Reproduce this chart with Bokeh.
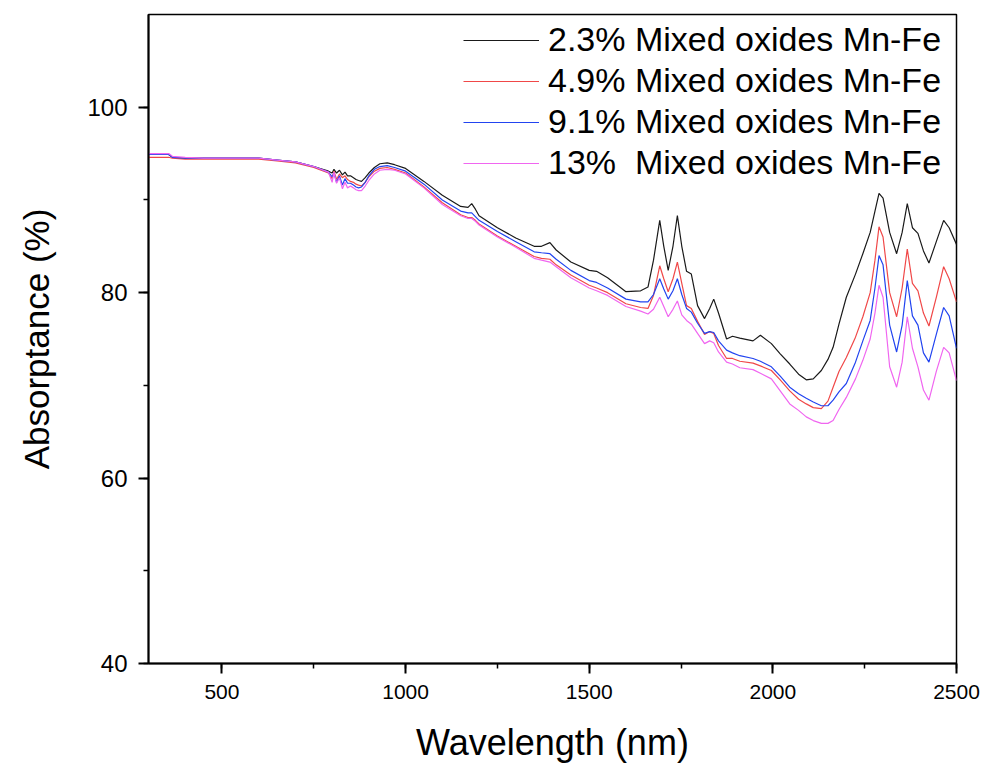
from bokeh.plotting import figure
from bokeh.models import FixedTicker, Legend, LegendItem, Range1d
from bokeh.embed import file_html
from bokeh.resources import INLINE

# Wavelength (nm)
wavelength = [300, 330, 355, 365, 400, 450, 500, 550, 600, 650, 700, 750, 790, 800, 805, 812, 820, 828, 835, 842,
              850, 858, 865, 872, 880, 890, 900, 915, 930, 950, 970, 1000, 1050, 1100, 1150, 1170, 1180, 1190, 1200,
              1250, 1300, 1350, 1370, 1393, 1410, 1450, 1500, 1520, 1550, 1600, 1640, 1660, 1675, 1692, 1703, 1715,
              1728, 1740, 1752, 1765, 1778, 1795, 1814, 1828, 1839, 1852, 1874, 1890, 1910, 1946, 1966, 1996, 2020,
              2046, 2070, 2091, 2110, 2132, 2150, 2164, 2180, 2200, 2225, 2245, 2265, 2278, 2289, 2300, 2318, 2337,
              2352, 2366, 2380, 2395, 2410, 2425, 2445, 2465, 2480, 2500]

abs_2_3 = [94.9, 94.9, 94.9, 94.6, 94.5, 94.5, 94.5, 94.5, 94.5, 94.3, 94.1, 93.6, 93.1, 92.9, 93.3, 92.9, 93.2, 92.7, 93.0, 92.6,
           92.6, 92.4, 92.2, 92.1, 92.0, 92.4, 92.9, 93.5, 93.9, 94.0, 93.8, 93.4, 92.0, 90.5, 89.3, 89.2, 89.6, 89.0, 88.3,
           87.0, 85.9, 85.0, 85.0, 85.4, 84.6, 83.3, 82.4, 82.3, 81.6, 80.1, 80.2, 80.6, 83.5, 87.8, 85.0, 82.4,
           85.0, 88.3, 85.0, 82.3, 82.0, 78.6, 77.2, 78.3, 79.3, 77.8, 75.0, 75.3, 75.1, 74.8, 75.4, 74.5, 73.4,
           72.3, 71.2, 70.6, 70.7, 71.6, 72.8, 74.1, 76.6, 79.5, 82.0, 84.2, 86.5, 88.8, 90.7, 90.2, 86.5, 84.2,
           86.5, 89.6, 87.0, 86.4, 84.5, 83.2, 85.5, 87.8, 87.0, 85.2]

abs_4_9 = [94.6, 94.6, 94.6, 94.5, 94.4, 94.4, 94.4, 94.4, 94.4, 94.2, 94.0, 93.5, 92.9, 92.3, 93.1, 92.2, 92.8, 92.4, 92.6, 92.2,
           92.0, 91.9, 91.7, 91.6, 91.5, 91.9, 92.5, 93.1, 93.4, 93.5, 93.3, 92.9, 91.4, 89.7, 88.4, 88.1, 88.1, 87.8, 87.4,
           86.1, 85.0, 83.9, 83.7, 83.6, 83.0, 81.9, 80.8, 80.5, 80.0, 78.8, 78.4, 78.3, 79.7, 82.9, 81.5, 80.1,
           81.5, 83.3, 81.0, 78.6, 78.3, 76.9, 75.5, 75.8, 75.6, 74.3, 72.9, 72.9, 72.6, 72.4, 72.1, 71.6, 70.6,
           69.4, 68.5, 68.0, 67.6, 67.5, 68.3, 69.8, 71.5, 73.0, 75.2, 77.4, 80.0, 83.5, 87.1, 86.0, 80.0, 77.4,
           80.5, 84.7, 81.0, 80.2, 77.8, 76.4, 79.5, 82.8, 81.5, 79.0]

abs_9_1 = [94.9, 94.9, 94.9, 94.6, 94.5, 94.5, 94.5, 94.5, 94.5, 94.3, 94.1, 93.6, 93.0, 92.5, 92.9, 91.9, 92.6, 91.6, 92.3, 91.8,
           91.8, 91.6, 91.4, 91.3, 91.4, 91.9, 92.6, 93.3, 93.6, 93.7, 93.5, 93.1, 91.7, 90.0, 88.8, 88.6, 88.6, 88.2, 87.8,
           86.6, 85.5, 84.4, 84.3, 84.2, 83.6, 82.4, 81.3, 81.1, 80.5, 79.3, 79.0, 79.0, 79.8, 81.5, 80.4, 79.3,
           80.2, 81.5, 79.8, 78.3, 77.9, 76.7, 75.6, 75.8, 75.7, 74.8, 73.8, 73.5, 73.2, 72.9, 72.6, 72.0, 71.0,
           69.8, 69.1, 68.6, 68.2, 67.8, 67.8, 68.4, 69.3, 70.2, 72.5, 74.8, 77.0, 80.5, 84.0, 83.0, 76.5, 73.6,
           76.5, 81.3, 77.5, 76.5, 73.5, 72.5, 75.5, 78.4, 77.5, 74.0]

abs_13 = [95.0, 95.0, 95.0, 94.7, 94.6, 94.5, 94.5, 94.5, 94.5, 94.3, 94.1, 93.6, 93.0, 91.9, 93.0, 91.8, 92.4, 91.2, 91.9, 91.3,
          91.5, 91.3, 91.1, 91.0, 91.0, 91.5, 92.1, 92.8, 93.2, 93.3, 93.2, 92.8, 91.3, 89.5, 88.3, 88.0, 88.0, 87.7, 87.3,
          86.0, 84.9, 83.7, 83.5, 83.3, 82.8, 81.6, 80.5, 80.2, 79.7, 78.5, 78.0, 77.7, 78.2, 79.5, 78.5, 77.4,
          78.2, 79.1, 77.6, 77.0, 76.6, 75.6, 74.5, 74.8, 74.6, 73.6, 72.5, 72.3, 71.9, 71.7, 71.3, 70.7, 69.4,
          68.0, 67.3, 66.6, 66.2, 65.9, 65.9, 66.2, 67.4, 68.7, 70.7, 72.7, 75.0, 77.8, 80.8, 79.5, 72.0, 69.8,
          72.5, 77.4, 74.0, 72.0, 69.5, 68.4, 71.5, 74.1, 73.5, 70.5]

series_labels = ["2.3% Mixed oxides Mn-Fe", "4.9% Mixed oxides Mn-Fe",
                 "9.1% Mixed oxides Mn-Fe", "13%  Mixed oxides Mn-Fe"]
series_colors = ["#1a1a1a", "#f04848", "#2244f0", "#f066f0"]
x_ticks = [500, 1000, 1500, 2000, 2500]
x_minor = [750, 1250, 1750, 2250]
y_ticks = [40, 60, 80, 100]
y_minor = [50, 70, 90]

FONT = "Liberation Sans"

p = figure(frame_width=808, frame_height=649, output_backend="svg", toolbar_location=None,
           x_range=Range1d(300, 2500), y_range=Range1d(40, 110),
           min_border_left=148, min_border_top=14, min_border_right=24, min_border_bottom=95)
p.background_fill_color = "white"
p.border_fill_color = "white"
p.grid.visible = False
p.outline_line_color = "black"
p.outline_line_width = 1.5

renderers = []
for vals, col in zip([abs_2_3, abs_4_9, abs_9_1, abs_13], series_colors):
    r = p.line(wavelength, vals, line_color=col, line_width=1.2)
    renderers.append(r)

for ax in (p.xaxis[0], p.yaxis[0]):
    ax.axis_line_width = 2
    ax.axis_line_color = "black"
    ax.major_tick_line_width = 2
    ax.major_tick_line_color = "black"
    ax.minor_tick_line_width = 1.5
    ax.minor_tick_line_color = "black"
    ax.major_tick_out = 10
    ax.major_tick_in = 0
    ax.minor_tick_out = 5
    ax.minor_tick_in = 0
    ax.major_label_text_font = FONT
    ax.major_label_text_color = "black"
    ax.axis_label_text_font = FONT
    ax.axis_label_text_font_style = "normal"
    ax.axis_label_text_color = "black"
    ax.axis_label_text_font_size = "36px"

# major positions are also listed among the minor ticks so that every tick mark shows
p.xaxis.ticker = FixedTicker(ticks=x_ticks, minor_ticks=x_minor + x_ticks)
p.yaxis.ticker = FixedTicker(ticks=y_ticks, minor_ticks=y_minor + y_ticks)
p.xaxis.axis_label = "Wavelength (nm)"
p.yaxis.axis_label = "Absorptance (%)"
p.yaxis.axis_label_text_font_size = "35px"
p.xaxis.major_label_text_font_size = "21px"
p.yaxis.major_label_text_font_size = "24px"
p.xaxis.major_label_standoff = 11
p.yaxis.major_label_standoff = 11
p.xaxis.axis_label_standoff = 20
p.yaxis.axis_label_standoff = 28

legend = Legend(items=[LegendItem(label=lab, renderers=[r]) for lab, r in zip(series_labels, renderers)],
                location="top_right")
legend.border_line_color = None
legend.background_fill_alpha = 0
legend.label_text_font = FONT
legend.label_text_font_size = "34px"
legend.label_text_color = "black"
legend.glyph_width = 76
legend.label_standoff = 9
legend.label_width = 402
legend.spacing = 2
legend.margin = 6
legend.padding = 4
p.add_layout(legend)

open("out.html", "w").write(file_html(p, INLINE))
